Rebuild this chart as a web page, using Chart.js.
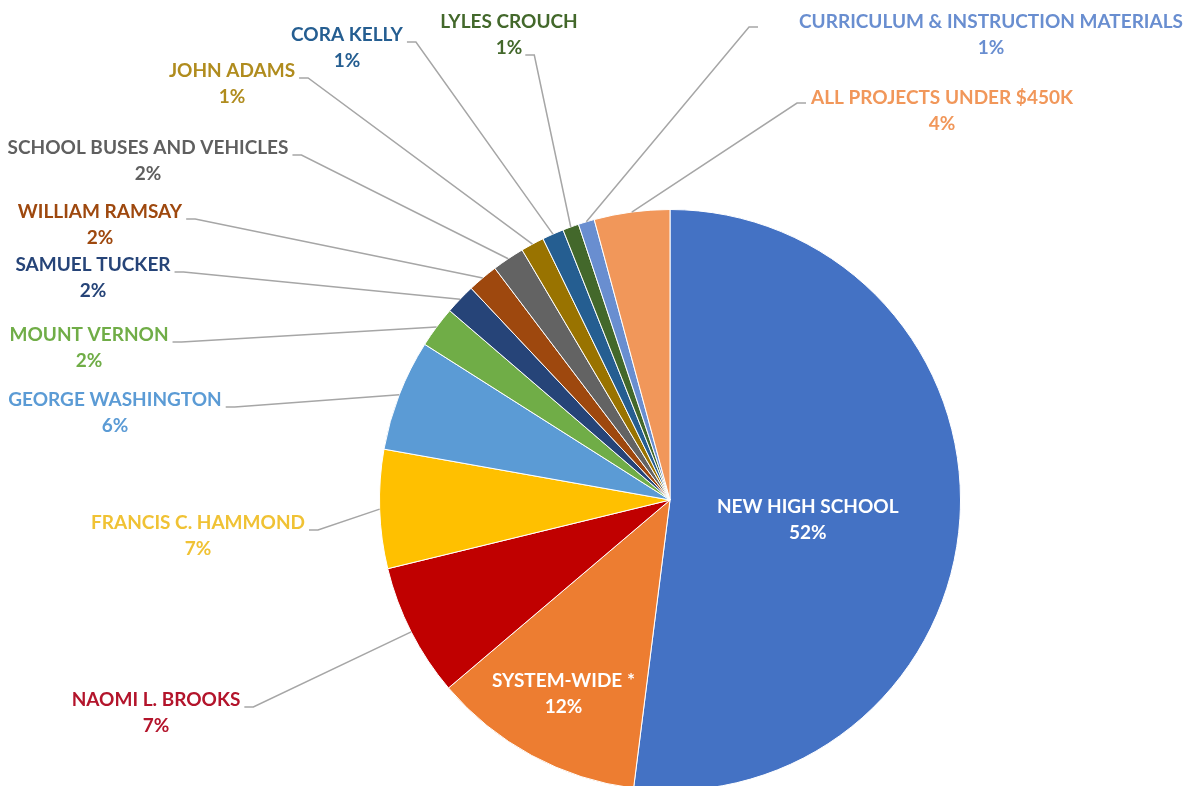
<!DOCTYPE html>
<html>
<head>
<meta charset="utf-8">
<script src="https://cdn.jsdelivr.net/npm/chart.js@4/dist/chart.umd.min.js"></script>
<style>
	html, body { margin: 0; padding: 0; background: #fff; overflow: hidden; }
	#wrap { width: 1191px; height: 800px; }
</style>
</head>
<body>
<div id="wrap"><canvas id="chart" width="1191" height="800"></canvas></div>
<script>
( function() { 'use strict';

	// slices, clockwise from 12 o'clock
	const categories = [
		'NEW HIGH SCHOOL', 'SYSTEM-WIDE *', 'NAOMI L. BROOKS', 'FRANCIS C. HAMMOND',
		'GEORGE WASHINGTON', 'MOUNT VERNON', 'SAMUEL TUCKER', 'WILLIAM RAMSAY',
		'SCHOOL BUSES AND VEHICLES', 'JOHN ADAMS', 'CORA KELLY', 'LYLES CROUCH',
		'CURRICULUM & INSTRUCTION MATERIALS', 'ALL PROJECTS UNDER $450K'
	];
	const shares = [ 52.0, 11.8, 7.4, 6.6, 6.2, 2.3, 1.7, 1.7, 1.8, 1.3, 1.2, 0.9, 0.9, 4.2 ];

	const sliceColors = [
		'#4472C4', '#ED7D31', '#C00000', '#FFC000', '#5B9BD5', '#70AD47', '#264478',
		'#9E480E', '#636363', '#997300', '#255E91', '#43682B', '#698ED0', '#F1975A'
	];
	const labelColors = [
		'#FFFFFF', '#FFFFFF', '#B3142B', '#F0C234', '#5B9BD5', '#70AD47', '#264478',
		'#9E480E', '#5F5F5F', '#B08C1E', '#255E91', '#43682B', '#698ED0', '#F1975A'
	];

	// label layout: x = text centre, y = first line centre, side = where the leader attaches
	// inside labels use a radial fraction instead
	const labelLayout = [
		{ inside: 0.475, dy: 11 },
		{ inside: 0.77, dy: -3 },
		{ x: 156, y: 700, side: 'right' },
		{ x: 198, y: 523, side: 'right' },
		{ x: 115, y: 400, side: 'right' },
		{ x: 89, y: 335, side: 'right' },
		{ x: 93, y: 265, side: 'right' },
		{ x: 100, y: 212, side: 'right' },
		{ x: 148, y: 148, side: 'right' },
		{ x: 232, y: 71, side: 'right' },
		{ x: 347, y: 35, side: 'right' },
		{ x: 509, y: 22, side: 'pct' },
		{ x: 991, y: 22, side: 'left', gap: 36 },
		{ x: 942, y: 98, side: 'left' }
	];

	const FONT = 'bold 19px Lato, "Open Sans", sans-serif';
	const LINE_GAP = 26;

	const total = shares.reduce( function( a, b ) { return a + b; }, 0 );

	/**
	 * Draw data labels and leader lines
	 */
	const pieLabels = {
		id: 'pieLabels',
		afterDatasetsDraw: function( chart ) {
			const ctx = chart.ctx;
			const arcs = chart.getDatasetMeta( 0 ).data;
			ctx.save();
			ctx.font = FONT;
			ctx.textAlign = 'center';
			ctx.textBaseline = 'middle';

			arcs.forEach( function( arc, i ) {
				const p = arc.getProps( [ 'x', 'y', 'startAngle', 'endAngle', 'outerRadius' ], true );
				const mid = ( p.startAngle + p.endAngle ) / 2;
				const pct = Math.round( shares[ i ] / total * 100 ) + '%';
				const lay = labelLayout[ i ];
				let tx, ty;

				if ( lay.inside ) {
					const r = p.outerRadius * lay.inside;
					tx = p.x + Math.cos( mid ) * r;
					ty = p.y + Math.sin( mid ) * r - LINE_GAP / 2 + ( lay.dy || 0 );
				} else {
					tx = lay.x;
					ty = lay.y;
					const edgeX = p.x + Math.cos( mid ) * p.outerRadius;
					const edgeY = p.y + Math.sin( mid ) * p.outerRadius;
					const gap = lay.gap || 0;
					let ax, ay, ex;
					if ( lay.side === 'right' ) {
						ax = tx + ctx.measureText( categories[ i ] ).width / 2 + 4 + gap;
						ay = ty + 7;
						ex = ax + 9;
					} else if ( lay.side === 'left' ) {
						ax = tx - ctx.measureText( categories[ i ] ).width / 2 - 5 - gap;
						ay = ty + 5;
						ex = ax - 9;
					} else {
						ax = tx + ctx.measureText( pct ).width / 2 + 3;
						ay = ty + LINE_GAP + 7;
						ex = ax + 9;
					}
					ctx.beginPath();
					ctx.strokeStyle = '#A6A6A6';
					ctx.lineWidth = 1.5;
					ctx.moveTo( ax, ay );
					ctx.lineTo( ex, ay );
					ctx.lineTo( edgeX, edgeY );
					ctx.stroke();
				}

				ctx.fillStyle = labelColors[ i ];
				ctx.fillText( categories[ i ], tx, ty );
				ctx.fillText( pct, tx, ty + LINE_GAP );
			} );
			ctx.restore();
		}
	};

	new Chart( document.getElementById( 'chart' ), {
		type: 'pie',
		data: {
			labels: categories,
			datasets: [ {
				data: shares,
				backgroundColor: sliceColors,
				borderColor: '#FFFFFF',
				borderWidth: 1
			} ]
		},
		options: {
			responsive: false,
			animation: false,
			layout: { padding: { left: 379, right: 230, top: 209, bottom: 9 } },
			plugins: {
				legend: { display: false },
				tooltip: { enabled: false }
			}
		},
		plugins: [ pieLabels ]
	} );

})();
</script>
</body>
</html>
